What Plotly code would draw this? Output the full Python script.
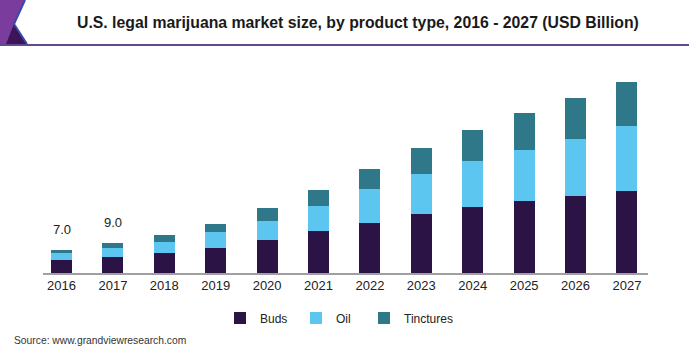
import plotly.graph_objects as go

years = ["2016", "2017", "2018", "2019", "2020", "2021", "2022", "2023", "2024", "2025", "2026", "2027"]
buds = [3.9, 4.9, 6.0, 7.5, 9.9, 12.7, 15.3, 17.8, 20.1, 21.7, 23.3, 24.7]
oil = [2.1, 2.7, 3.5, 4.8, 5.8, 7.5, 10.1, 12.3, 13.9, 15.7, 17.4, 19.9]
tinctures = [1.0, 1.4, 1.9, 2.5, 3.9, 5.1, 6.2, 7.8, 9.3, 11.0, 12.2, 13.4]
labeled_years = ["2016", "2017"]

FONT = "Arial, Liberation Sans, sans-serif"
C_BUDS = "#2c1346"
C_OIL = "#5cc6f1"
C_TINC = "#2f7889"

# plot area in pixels
L, R, T, B = 43, 648, 70, 273
W, H = 697, 364


def px(x):
    return (x - L) / (R - L)


def py(y):
    return (B - y) / (B - T)


fig = go.Figure()
series = [("Buds", buds, C_BUDS, "legend"), ("Oil", oil, C_OIL, "legend2"), ("Tinctures", tinctures, C_TINC, "legend3")]
for name, vals, col, lg in series:
    fig.add_trace(go.Bar(x=years, y=vals, name=name, legend=lg,
                         marker=dict(color=col, line=dict(width=0))))

totals = [b + o + t for b, o, t in zip(buds, oil, tinctures)]
annotations = []
for yr in labeled_years:
    i = years.index(yr)
    annotations.append(dict(x=i, y=totals[i], xref="x", yref="y", text=f"{totals[i]:.1f}", showarrow=False,
                            yanchor="bottom", yshift=11,
                            font=dict(family=FONT, size=13, color="#222222")))

annotations.append(dict(xref="paper", yref="paper", x=px(358), y=py(22),
                        text="<b>U.S. legal marijuana market size, by product type, 2016 - 2027 (USD Billion)</b>",
                        showarrow=False, yanchor="middle", xanchor="center",
                        font=dict(family=FONT, size=15.8, color="#1a1a1a")))
annotations.append(dict(xref="paper", yref="paper", x=px(12), y=py(340),
                        text="Source: www.grandviewresearch.com", showarrow=False,
                        xanchor="left", yanchor="middle",
                        font=dict(family=FONT, size=10.3, color="#333333")))

shapes = [
    dict(type="path", xref="paper", yref="paper",
         path=f"M {px(0)},{py(0)} L {px(25)},{py(0)} L {px(14)},{py(24)} L {px(27)},{py(44)} L {px(0)},{py(44)} Z",
         fillcolor="#7a3d9e", line=dict(width=0), layer="above"),
    dict(type="path", xref="paper", yref="paper",
         path=f"M {px(14)},{py(24)} L {px(27)},{py(44)} L {px(6)},{py(44)} Z",
         fillcolor="#3d1457", line=dict(width=0), layer="above"),
    dict(type="path", xref="paper", yref="paper",
         path=f"M {px(25)},{py(0)} L {px(14)},{py(24)} L {px(27)},{py(44)}",
         line=dict(color="#3a4aa8", width=2), layer="above"),
    dict(type="line", xref="paper", yref="paper", x0=px(0), x1=px(689), y0=py(45), y1=py(45),
         line=dict(color="#5f4a8b", width=2), layer="above"),
]


def legend_at(xpix):
    return dict(orientation="h", x=px(xpix), xanchor="left", y=py(318), yanchor="middle",
                font=dict(family=FONT, size=12, color="#222222"), itemwidth=30,
                bgcolor="rgba(0,0,0,0)")


fig.update_layout(
    width=W, height=H,
    margin=dict(l=L, r=W - R, t=T, b=H - B, autoexpand=False),
    paper_bgcolor="white", plot_bgcolor="white",
    barmode="stack", bargap=0.59,
    font=dict(family=FONT, color="#222222"),
    shapes=shapes,
    annotations=annotations,
    showlegend=True,
    legend=legend_at(220),
    legend2=legend_at(296),
    legend3=legend_at(364),
    xaxis=dict(type="category", range=[-0.36, 11.41], showline=True, linecolor="#a0a0a0", linewidth=1.5,
               ticks="", showgrid=False, tickfont=dict(family=FONT, size=13, color="#222222"), fixedrange=True),
    yaxis=dict(range=[0, (B - T) / 3.3], visible=False, showgrid=False, zeroline=False, fixedrange=True),
)

fig.write_html("out.html", config={"displayModeBar": False},
               post_script="document.body.style.margin='0';")
